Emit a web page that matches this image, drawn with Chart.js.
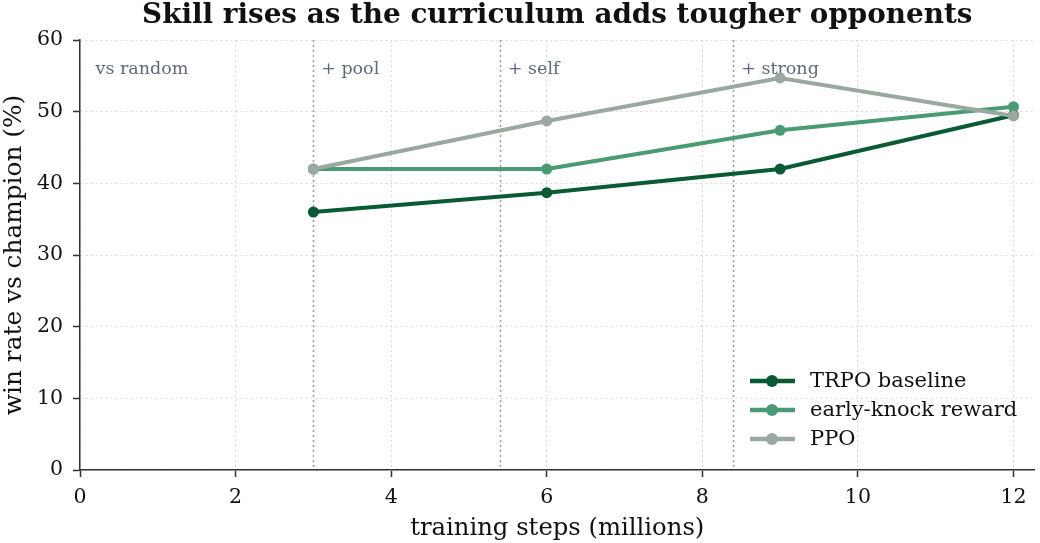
<!DOCTYPE html>
<html>
<head>
<meta charset="utf-8">
<script src="https://cdn.jsdelivr.net/npm/chart.js@4"></script>
<style>
  html, body { margin: 0; padding: 0; background: #fff; }
  #wrap { width: 1040px; height: 543px; }
</style>
</head>
<body>
<div id="wrap"><canvas id="grafico"></canvas></div>
<script>
// Dados
const passos = [3, 6, 9, 12];
const trpo = [36.0, 38.7, 42.0, 49.5];
const earlyKnock = [42.0, 42.0, 47.4, 50.7];
const ppo = [42.0, 48.7, 54.7, 49.4];

const nomes = ['TRPO baseline', 'early-knock reward', 'PPO'];
const cores = ['#0b5a36', '#4a9a75', '#9aa8a0'];

// Fases do currículo (início de cada fase e rótulo)
const fasesInicio = [3, 5.4, 8.4];
const fasesRotulo = ['vs random', '+ pool', '+ self', '+ strong'];
const fasesRotuloX = [0.2, 3.1, 5.5, 8.5];

const xTicks = [0, 2, 4, 6, 8, 10, 12];
const yTicks = [0, 10, 20, 30, 40, 50, 60];

const FONTE = "'DejaVu Serif', serif";

function serie(valores) {
    return passos.map((x, i) => ({ x: x, y: valores[i] }));
}

// Plugin para título, linhas das fases, rótulos e legenda
const extras = {
    id: 'extras',
    beforeDatasetsDraw(chart) {
        const { ctx, chartArea, scales } = chart;
        ctx.save();
        ctx.strokeStyle = '#999';
        ctx.lineWidth = 1.5;
        ctx.setLineDash([2, 3]);
        fasesInicio.forEach(v => {
            const px = Math.round(scales.x.getPixelForValue(v)) + 0.5;
            ctx.beginPath();
            ctx.moveTo(px, chartArea.top);
            ctx.lineTo(px, chartArea.bottom);
            ctx.stroke();
        });
        ctx.setLineDash([]);
        ctx.fillStyle = '#5d6b78';
        ctx.font = '17.5px ' + FONTE;
        ctx.textBaseline = 'middle';
        ctx.textAlign = 'left';
        fasesRotulo.forEach((t, i) => {
            ctx.fillText(t, scales.x.getPixelForValue(fasesRotuloX[i]), scales.y.getPixelForValue(55.9));
        });
        ctx.restore();
    },
    afterDraw(chart) {
        const { ctx, chartArea } = chart;
        ctx.save();
        // título
        ctx.fillStyle = '#111';
        ctx.font = 'bold 27.8px ' + FONTE;
        ctx.textAlign = 'center';
        ctx.textBaseline = 'middle';
        ctx.fillText('Skill rises as the curriculum adds tougher opponents',
            (chartArea.left + chartArea.right) / 2, 16);

        // legenda
        ctx.font = '21px ' + FONTE;
        ctx.textAlign = 'left';
        nomes.forEach((nome, i) => {
            const y = 381 + i * 29;
            ctx.strokeStyle = cores[i];
            ctx.lineWidth = 4.5;
            ctx.beginPath();
            ctx.moveTo(750, y);
            ctx.lineTo(795, y);
            ctx.stroke();
            ctx.fillStyle = cores[i];
            ctx.beginPath();
            ctx.arc(772, y, 6, 0, Math.PI * 2);
            ctx.fill();
            ctx.fillStyle = '#111';
            ctx.fillText(nome, 810, y + 1);
        });
        ctx.restore();
    }
};

const valoresSeries = [trpo, earlyKnock, ppo];

const grade = {
    color: '#d8d8d8',
    lineWidth: 1,
    tickColor: '#333',
    tickLength: 7,
    tickWidth: 1.5
};

const grafico = new Chart(document.getElementById('grafico').getContext('2d'), {
    type: 'line',
    data: {
        datasets: valoresSeries.map((v, i) => ({
            label: nomes[i],
            data: serie(v),
            borderColor: cores[i],
            backgroundColor: cores[i],
            pointBackgroundColor: cores[i],
            pointBorderColor: cores[i],
            borderWidth: 4,
            pointRadius: 5.5,
            pointBorderWidth: 0,
            fill: false,
            tension: 0,
            order: 3 - i
        }))
    },
    options: {
        responsive: true,
        maintainAspectRatio: false,
        animation: false,
        layout: { padding: { top: 40, right: 5, left: 0, bottom: 0 } },
        plugins: {
            legend: { display: false },
            title: { display: false },
            tooltip: { enabled: false }
        },
        scales: {
            x: {
                type: 'linear',
                min: 0,
                max: 12.27,
                afterBuildTicks: s => { s.ticks = xTicks.map(v => ({ value: v })); },
                afterFit: s => { s.height = 73; },
                grid: grade,
                border: { display: true, color: '#333', width: 1.5, dash: [2, 3] },
                ticks: {
                    color: '#111',
                    font: { family: FONTE, size: 20.5 },
                    padding: 8,
                    maxRotation: 0
                },
                title: {
                    display: true,
                    text: 'training steps (millions)',
                    color: '#111',
                    font: { family: FONTE, size: 24.3 },
                    padding: { top: 0, bottom: 0 }
                }
            },
            y: {
                type: 'linear',
                min: 0,
                max: 60,
                afterBuildTicks: s => { s.ticks = yTicks.map(v => ({ value: v })); },
                afterFit: s => { s.width = 80; },
                grid: grade,
                border: { display: true, color: '#333', width: 1.5, dash: [2, 3] },
                ticks: {
                    color: '#111',
                    font: { family: FONTE, size: 20.5 },
                    padding: 10
                },
                title: {
                    display: true,
                    text: 'win rate vs champion (%)',
                    color: '#111',
                    font: { family: FONTE, size: 24.8 },
                    padding: { top: 0, bottom: 0 }
                }
            }
        }
    },
    plugins: [extras]
});
</script>
</body>
</html>
